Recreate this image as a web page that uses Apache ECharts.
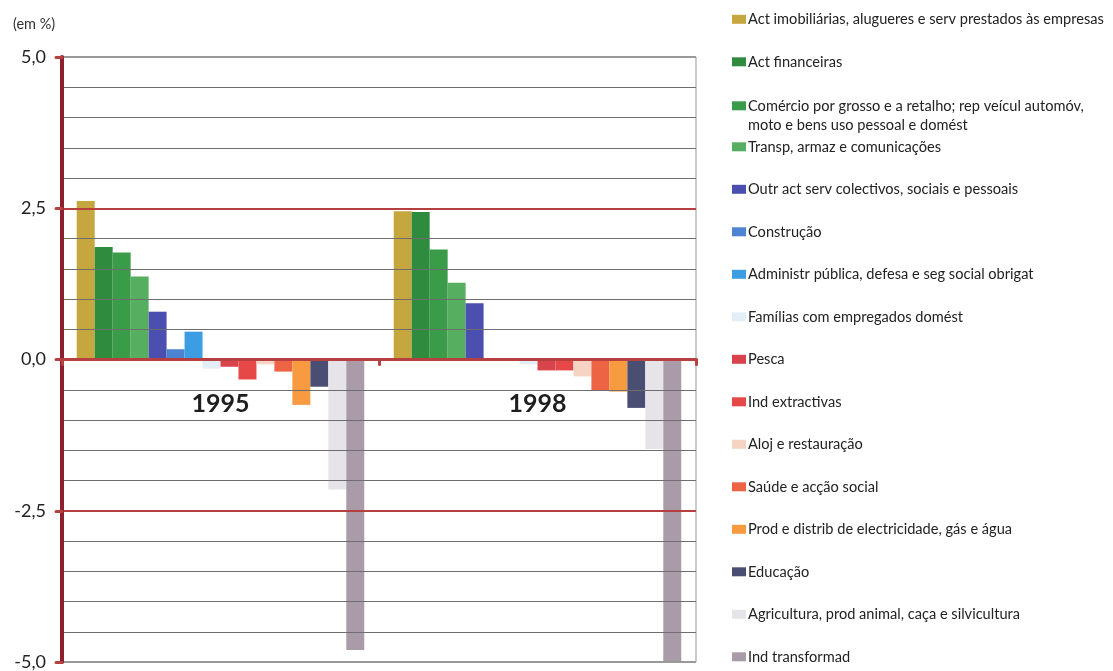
<!DOCTYPE html>
<html>
<head>
<meta charset="utf-8">
<script src="https://cdn.jsdelivr.net/npm/echarts@6/dist/echarts.min.js"></script>
<style>
  html, body { margin: 0; padding: 0; background: #fff; }
  #chart { width: 1113px; height: 671px; }
</style>
</head>
<body>
<div id="chart"></div>
<script>
// ---- data ----
const categories = ['1995', '1998'];
const seriesNames = [
  'Act imobiliárias, alugueres e serv prestados às empresas',
  'Act financeiras',
  'Comércio por grosso e a retalho; rep veícul automóv,\nmoto e bens uso pessoal e domést',
  'Transp, armaz e comunicações',
  'Outr act serv colectivos, sociais e pessoais',
  'Construção',
  'Administr pública, defesa e seg social obrigat',
  'Famílias com empregados domést',
  'Pesca',
  'Ind extractivas',
  'Aloj e restauração',
  'Saúde e acção social',
  'Prod e distrib de electricidade, gás e água',
  'Educação',
  'Agricultura, prod animal, caça e silvicultura',
  'Ind transformad'
];
const values1995 = [2.62, 1.86, 1.77, 1.37, 0.79, 0.17, 0.46, -0.15, -0.12, -0.33, -0.08, -0.20, -0.75, -0.45, -2.15, -4.80];
const values1998 = [2.45, 2.44, 1.82, 1.27, 0.93, 0.00, 0.00, -0.08, -0.18, -0.18, -0.28, -0.52, -0.53, -0.80, -1.48, -5.00];
const yTickValues = [-5, -2.5, 0, 2.5, 5];
const yTickLabels = ['-5,0', '-2,5', '0,0', '2,5', '5,0'];

// ---- styles ----
const palette = [
  '#C6A63E', '#2F8C3E', '#3A9B48', '#56AE60', '#4A4FB0', '#4C84D2', '#3C9DE2', '#E4EEF7',
  '#D8434C', '#E64848', '#F5D4C4', '#EC6443', '#F89A40', '#4A4E72', '#E6E4E8', '#A99BA7'
];
const redLine = '#B5403F';
const font = 'Lato, "Open Sans", sans-serif';

const chart = echarts.init(document.getElementById('chart'), null, { renderer: 'canvas' });

const series = seriesNames.map((name, i) => ({
  name: name,
  type: 'bar',
  data: [values1995[i], values1998[i]],
  barGap: 0,
  barCategoryGap: '9.3%',
  itemStyle: { color: palette[i] },
  emphasis: { disabled: true },
  z: 2
}));

const legendTop0 = 18.3;
const legendStep = 42.5;
const legendLineH = 19;
const legends = seriesNames.map((name, i) => {
  const multi = name.indexOf('\n') >= 0;
  const c = legendTop0 + legendStep * i;
  return {
    data: [name],
    orient: 'vertical',
    left: 732,
    top: multi ? c - legendLineH * 1.5 + 2.5 : c - 6.5,
    itemWidth: 14,
    itemHeight: 9,
    itemGap: 0,
    icon: 'rect',
    selectedMode: false,
    formatter: multi ? function (n) { return ' \n' + n; } : undefined,
    textStyle: Object.assign({
      fontFamily: font,
      fontSize: 14.6,
      color: '#222',
      padding: [0, 0, 0, -3]
    }, multi ? { lineHeight: legendLineH } : {}),
    padding: 0
  };
});

chart.setOption({
  animation: false,
  backgroundColor: '#fff',
  title: {
    text: '(em %)',
    left: 8,
    top: 12,
    textStyle: { fontFamily: font, fontSize: 14.5, fontWeight: 'normal', color: '#333' }
  },
  legend: legends,
  grid: {
    left: 62,
    right: 417,
    top: 57,
    bottom: 9,
    show: true,
    borderColor: '#999',
    borderWidth: 1,
    containLabel: false,
    outerBoundsMode: 'none'
  },
  xAxis: {
    type: 'category',
    data: categories,
    position: 'bottom',
    offset: -302.5,
    axisLine: { onZero: false, lineStyle: { color: redLine, width: 3 } },
    axisTick: { show: true, length: 5, lineStyle: { color: redLine, width: 3, cap: 'round' } },
    axisLabel: {
      margin: 32,
      fontFamily: font,
      fontSize: 25,
      fontWeight: 'bold',
      color: '#1e1e1e'
    },
    splitLine: { show: false },
    z: 3
  },
  yAxis: {
    type: 'value',
    min: -5,
    max: 5,
    interval: 2.5,
    axisLine: { show: true, lineStyle: { color: '#8E1F2E', width: 4 } },
    axisTick: { show: true, length: 6, lineStyle: { color: redLine, width: 3, cap: 'round' } },
    axisLabel: {
      margin: 16,
      fontFamily: font,
      fontSize: 18,
      color: '#222',
      formatter: function (v) {
        const idx = yTickValues.indexOf(v);
        return idx >= 0 ? yTickLabels[idx] : '';
      }
    },
    splitLine: {
      show: true,
      lineStyle: { color: ['#999', redLine, redLine, redLine, '#999'], width: 2 }
    },
    minorTick: { show: false, splitNumber: 5 },
    minorSplitLine: { show: true, lineStyle: { color: '#6e6e6e', width: 1 } },
    z: 3
  },
  series: series
});
</script>
</body>
</html>
